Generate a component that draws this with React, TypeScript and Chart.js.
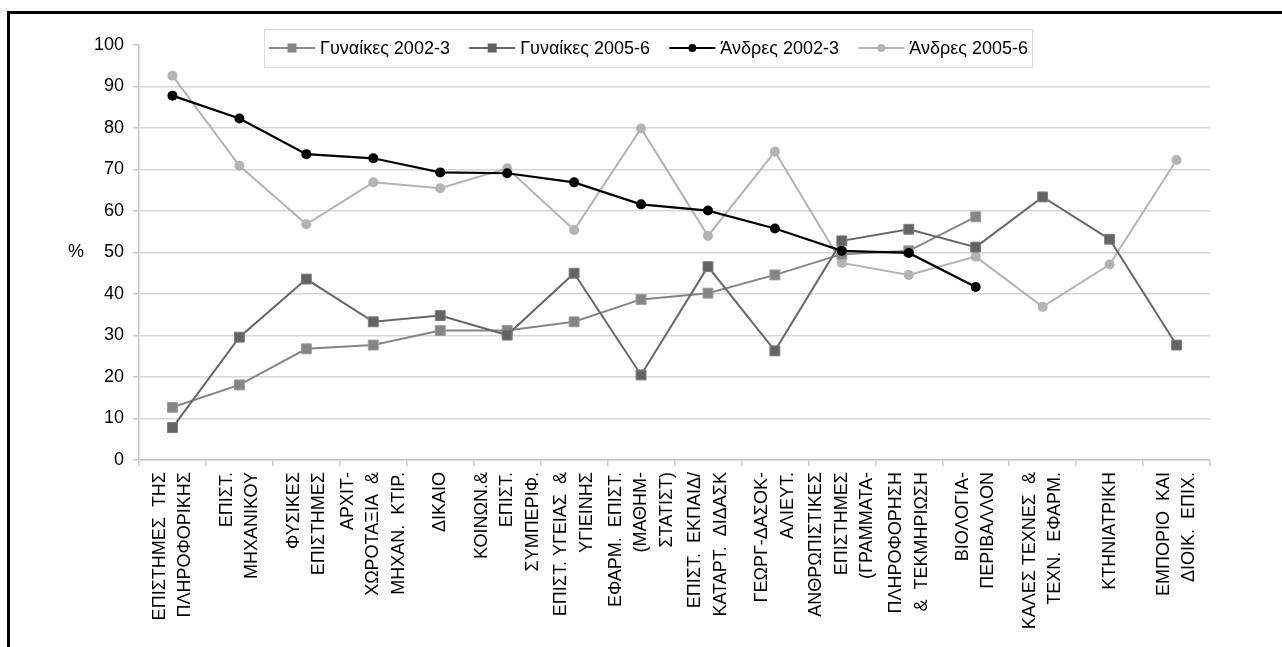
import React, { useEffect, useRef } from "react";
import { Chart, registerables } from "chart.js";

Chart.register(...registerables);

const categories: string[][] = [
  ["ΕΠΙΣΤΗΜΕΣ  ΤΗΣ", "ΠΛΗΡΟΦΟΡΙΚΗΣ"],
  ["ΕΠΙΣΤ.", "ΜΗΧΑΝΙΚΟΥ"],
  ["ΦΥΣΙΚΕΣ", "ΕΠΙΣΤΗΜΕΣ"],
  ["ΑΡΧΙΤ-", "ΧΩΡΟΤΑΞΙΑ  &", "ΜΗΧΑΝ.  ΚΤΙΡ."],
  ["ΔΙΚΑΙΟ"],
  ["ΚΟΙΝΩΝ.&", "ΕΠΙΣΤ.", "ΣΥΜΠΕΡΙΦ."],
  ["ΕΠΙΣΤ. ΥΓΕΙΑΣ  &", "ΥΓΙΕΙΝΗΣ"],
  ["ΕΦΑΡΜ.  ΕΠΙΣΤ.", "(ΜΑΘΗΜ-", "ΣΤΑΤΙΣΤ)"],
  ["ΕΠΙΣΤ.  ΕΚΠΑΙΔ/", "ΚΑΤΑΡΤ.  ΔΙΔΑΣΚ"],
  ["ΓΕΩΡΓ-ΔΑΣΟΚ-", "ΑΛΙΕΥΤ."],
  ["ΑΝΘΡΩΠΙΣΤΙΚΕΣ", "ΕΠΙΣΤΗΜΕΣ", "(ΓΡΑΜΜΑΤΑ-"],
  ["ΠΛΗΡΟΦΟΡΗΣΗ", "&  ΤΕΚΜΗΡΙΩΣΗ"],
  ["ΒΙΟΛΟΓΙΑ-", "ΠΕΡΙΒΑΛΛΟΝ"],
  ["ΚΑΛΕΣ ΤΕΧΝΕΣ  &", "ΤΕΧΝ.  ΕΦΑΡΜ."],
  ["ΚΤΗΝΙΑΤΡΙΚΗ"],
  ["ΕΜΠΟΡΙΟ  ΚΑΙ", "ΔΙΟΙΚ.  ΕΠΙΧ."],
];

const seriesNames = ["Γυναίκες 2002-3", "Γυναίκες 2005-6", "Άνδρες 2002-3", "Άνδρες 2005-6"];

const women2002: (number | null)[] = [12.7, 18.1, 26.8, 27.7, 31.2, 31.2, 33.3, 38.7, 40.2, 44.6, 49.6, 50.4, 58.6, null, null, null];
const women2005: (number | null)[] = [7.8, 29.6, 43.6, 33.3, 34.8, 30.1, 45.0, 20.5, 46.6, 26.3, 52.8, 55.6, 51.3, 63.4, 53.2, 27.7];
const men2002: (number | null)[] = [87.8, 82.3, 73.7, 72.7, 69.3, 69.1, 66.9, 61.6, 60.1, 55.8, 50.4, 49.9, 41.7, null, null, null];
const men2005: (number | null)[] = [92.6, 70.9, 56.8, 66.9, 65.5, 70.3, 55.4, 79.9, 54.0, 74.3, 47.5, 44.6, 49.0, 36.9, 47.1, 72.3];

const yMin = 0;
const yMax = 100;
const yStep = 10;
const yAxisTitle = "%";

const FONT = '"Liberation Sans", Arial, sans-serif';

const xLabelPlugin = {
  id: "xLabels",
  afterDraw(chart: any) {
    const ctx = chart.ctx;
    const xs = chart.scales.x;
    const lineGap = 25.5;
    ctx.save();
    ctx.font = `18px ${FONT}`;
    ctx.fillStyle = "#000";
    ctx.textAlign = "right";
    ctx.textBaseline = "middle";
    const y0 = chart.chartArea.bottom + 12;
    categories.forEach((lines, i) => {
      const cx = xs.getPixelForValue(i);
      const n = lines.length;
      lines.forEach((t, j) => {
        const x = cx + (j - (n - 1) / 2) * lineGap;
        ctx.save();
        ctx.translate(x, y0);
        ctx.rotate(-Math.PI / 2);
        ctx.fillText(t, 0, 0);
        ctx.restore();
      });
    });
    // y axis title
    const ys = chart.scales.y;
    ctx.textAlign = "center";
    ctx.fillText(yAxisTitle, 76, ys.getPixelForValue(50));
    ctx.restore();
  },
};

const legendPlugin = {
  id: "customLegend",
  afterDraw(chart: any) {
    const ctx = chart.ctx;
    const bx = 264, by = 29, bw = 768, bh = 38;
    ctx.save();
    ctx.fillStyle = "#fff";
    ctx.fillRect(bx, by, bw, bh);
    ctx.strokeStyle = "#d9d9d9";
    ctx.lineWidth = 1;
    ctx.strokeRect(bx + 0.5, by + 0.5, bw, bh);
    ctx.font = `18px ${FONT}`;
    ctx.textBaseline = "middle";
    ctx.textAlign = "left";
    const sample = 46;
    const gapText = 5;
    const widths = seriesNames.map((s) => ctx.measureText(s).width);
    const startX = bx + 5;
    const endX = bx + bw - 4;
    const used = widths.reduce((a, b) => a + b, 0) + 4 * (sample + gapText);
    const gap = (endX - startX - used) / 3;
    const cy = by + bh / 2;
    let x = startX;
    chart.data.datasets.forEach((ds: any, i: number) => {
      ctx.strokeStyle = ds.borderColor;
      ctx.lineWidth = ds.borderWidth;
      ctx.beginPath();
      ctx.moveTo(x, cy);
      ctx.lineTo(x + sample, cy);
      ctx.stroke();
      ctx.fillStyle = ds.pointBackgroundColor;
      const mx = x + sample / 2;
      if (ds.pointStyle === "rect") {
        ctx.fillRect(mx - 4.5, cy - 4.5, 9, 9);
      } else {
        ctx.beginPath();
        ctx.arc(mx, cy, 4, 0, Math.PI * 2);
        ctx.fill();
      }
      ctx.fillStyle = "#000";
      ctx.fillText(seriesNames[i], x + sample + gapText, cy + 1);
      x += sample + gapText + widths[i] + gap;
    });
    ctx.restore();
  },
};

export default function App() {
  const ref = useRef<HTMLCanvasElement | null>(null);

  useEffect(() => {
    if (!ref.current) return;
    const chart = new Chart(ref.current, {
      type: "line",
      data: {
        labels: categories.map((c) => c.join(" ")),
        datasets: [
          {
            label: seriesNames[0],
            data: women2002,
            borderColor: "#858585",
            backgroundColor: "#858585",
            pointBackgroundColor: "#858585",
            pointBorderColor: "#9a9a9a",
            borderWidth: 2,
            pointStyle: "rect",
            pointRadius: 7,
            pointBorderWidth: 1,
            order: 2,
          },
          {
            label: seriesNames[1],
            data: women2005,
            borderColor: "#666666",
            backgroundColor: "#666666",
            pointBackgroundColor: "#636363",
            pointBorderColor: "#7c7c7c",
            borderWidth: 2,
            pointStyle: "rect",
            pointRadius: 7,
            pointBorderWidth: 1,
            order: 1,
          },
          {
            label: seriesNames[2],
            data: men2002,
            borderColor: "#000000",
            backgroundColor: "#000000",
            pointBackgroundColor: "#000000",
            pointBorderColor: "#000000",
            borderWidth: 2.2,
            pointStyle: "circle",
            pointRadius: 5,
            pointBorderWidth: 0,
            order: 0,
          },
          {
            label: seriesNames[3],
            data: men2005,
            borderColor: "#b3b3b3",
            backgroundColor: "#b3b3b3",
            pointBackgroundColor: "#b3b3b3",
            pointBorderColor: "#b3b3b3",
            borderWidth: 2,
            pointStyle: "circle",
            pointRadius: 5,
            pointBorderWidth: 0,
            order: 3,
          },
        ],
      },
      options: {
        animation: false,
        responsive: false,
        maintainAspectRatio: false,
        spanGaps: false,
        layout: { padding: { left: 0, top: 45, right: 72, bottom: 0 } },
        plugins: {
          legend: { display: false },
          tooltip: { enabled: false },
        },
        scales: {
          x: {
            type: "category",
            offset: true,
            grid: {
              offset: true,
              drawOnChartArea: false,
              drawTicks: true,
              tickLength: 6,
              color: "#c8c8c8",
              lineWidth: 1.5,
            },
            border: { display: true, color: "#c8c8c8", width: 1.5 },
            ticks: { display: false },
            afterFit: (s: any) => {
              s.height = 187;
            },
          },
          y: {
            min: yMin,
            max: yMax,
            ticks: {
              stepSize: yStep,
              padding: 9,
              color: "#000",
              font: { family: FONT, size: 18 },
            },
            grid: {
              color: (c: any) => (c.tick && c.tick.value === yMax ? "rgba(0,0,0,0)" : "#d6d6d6"),
              tickColor: "#c8c8c8",
              lineWidth: 1.5,
              tickLength: 6,
            },
            border: { display: true, color: "#c8c8c8", width: 1.5 },
            afterFit: (s: any) => {
              s.width = 139;
            },
          },
        },
      },
      plugins: [xLabelPlugin, legendPlugin],
    });
    return () => chart.destroy();
  }, []);

  return (
    <div style={{ position: "fixed", left: 0, top: 0, width: 1282, height: 647, background: "#fff" }}>
      <canvas ref={ref} width={1282} height={647} style={{ position: "absolute", left: 0, top: 0, display: "block" }} />
      <div
        style={{
          position: "absolute",
          left: 7,
          top: 11,
          right: 0,
          bottom: 0,
          borderTop: "3px solid #000",
          borderLeft: "3px solid #000",
          pointerEvents: "none",
        }}
      />
    </div>
  );
}
